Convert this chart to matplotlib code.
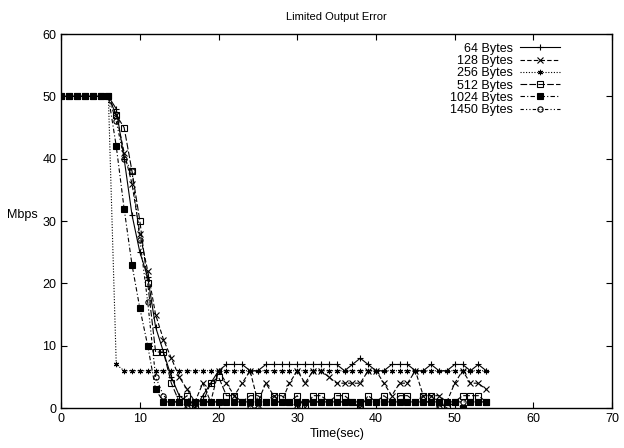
import matplotlib.pyplot as plt
import numpy as np

plt.rcParams['font.family'] = ['Liberation Sans', 'DejaVu Sans']

# time axis (seconds)
t = np.arange(0, 55)

# throughput values (Mbps)
head = [50] * 7
mbps_64 = head + [48, 40, 31, 25, 21, 13, 9, 5, 2, 1, 0, 2, 4, 6, 7, 7, 7, 6, 6, 7, 7, 7, 7, 7,
                  7, 7, 7, 7, 7, 6, 7, 8, 7, 6, 6, 7, 7, 7, 6, 6, 7, 6, 6, 7, 7, 6, 7, 6]
mbps_128 = head + [47, 41, 36, 28, 22, 15, 11, 8, 5, 3, 1, 4, 1, 6, 4, 2, 4, 6, 1, 4, 2, 1, 4, 6,
                   4, 6, 6, 5, 4, 4, 4, 4, 6, 6, 4, 2, 4, 4, 6, 2, 2, 2, 1, 4, 6, 4, 4, 3]
mbps_256 = head + [7, 6, 6, 6, 6, 6, 6, 6, 6, 6, 6, 6, 6, 6, 6, 6, 6, 6, 6, 6, 6, 6, 6, 6,
                   6, 6, 6, 6, 6, 6, 6, 6, 6, 6, 6, 6, 6, 6, 6, 6, 6, 6, 6, 6, 6, 6, 6, 6]
mbps_512 = head + [47, 45, 38, 30, 20, 9, 9, 4, 1, 2, 0, 1, 4, 5, 2, 2, 1, 2, 2, 1, 2, 2, 1, 2,
                   0, 2, 2, 1, 2, 2, 1, 0, 2, 1, 2, 1, 2, 2, 1, 2, 2, 1, 0, 1, 2, 2, 2, 1]
mbps_1024 = head + [42, 32, 23, 16, 10, 3, 1, 1, 1, 1, 1, 1, 1, 1, 1, 1, 1, 1, 1, 1, 1, 1, 1, 1,
                    1, 1, 1, 1, 1, 1, 1, 1, 1, 1, 1, 1, 1, 1, 1, 1, 1, 1, 1, 1, 0, 1, 1, 1]
mbps_1450 = head + [46, 40, 38, 27, 17, 5, 2, 1, 1, 0, 1, 1, 1, 1, 1, 1, 1, 0, 0, 1, 1, 1, 1, 0,
                    1, 1, 1, 1, 1, 1, 1, 0, 1, 1, 1, 1, 1, 1, 1, 1, 1, 0, 1, 1, 1, 1, 1, 1]

labels = ['64 Bytes', '128 Bytes', '256 Bytes', '512 Bytes', '1024 Bytes', '1450 Bytes']
series = [mbps_64, mbps_128, mbps_256, mbps_512, mbps_1024, mbps_1450]
styles = [
    ('-', '+', 'k'),
    ((0, (4, 2)), 'x', 'k'),
    ((0, (1, 1.5)), (6, 2, 0), 'k'),
    ((0, (6, 2)), 's', 'none'),
    ((0, (4, 2, 1, 2)), 's', 'k'),
    ((0, (3, 2, 1, 2, 1, 2)), 'o', 'none'),
]

fig = plt.figure(figsize=(6.24, 4.48), dpi=100)
ax = fig.add_axes([0.098, 0.089, 0.883, 0.835])

for y, lab, (ls, mk, fc) in zip(series, labels, styles):
    ax.plot(t, y, color='black', linestyle=ls, linewidth=0.8, marker=mk,
            markersize=3.8, markerfacecolor=fc, markeredgecolor='black',
            markeredgewidth=0.8, label=lab)

ax.set_xlim(0, 70)
ax.set_ylim(0, 60)
ax.set_xticks(range(0, 71, 10))
ax.set_yticks(range(0, 61, 10))
ax.tick_params(direction='in', top=True, right=True, length=4, labelsize=9)
for s in ax.spines.values():
    s.set_linewidth(1.0)

ax.set_title('Limited Output Error', fontsize=8, pad=10)
ax.set_xlabel('Time(sec)', fontsize=9, labelpad=2)
ax.set_ylabel('Mbps', fontsize=9, rotation=0, labelpad=14)

ax.legend(loc='upper right', frameon=False, markerfirst=False, fontsize=9,
          handlelength=3.2, handletextpad=0.6, labelspacing=0.02,
          bbox_to_anchor=(0.915, 0.99), borderaxespad=0)

fig.savefig('out.png', dpi=100)
